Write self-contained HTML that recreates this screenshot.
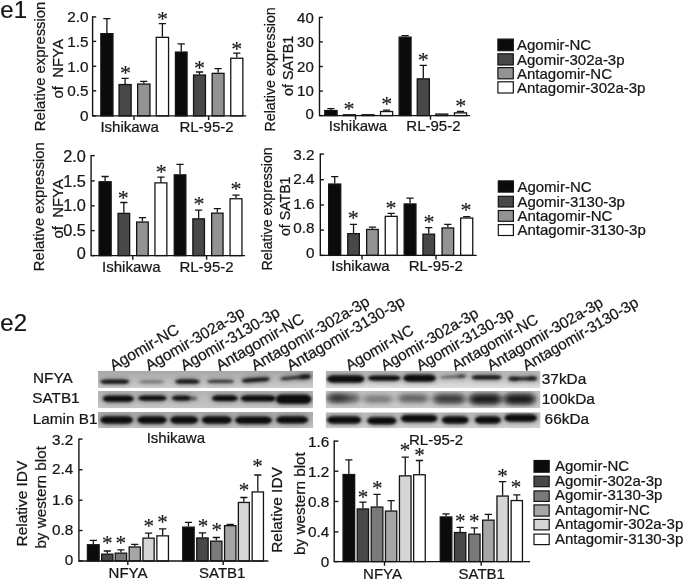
<!DOCTYPE html>
<html><head><meta charset="utf-8"><title>Figure e</title>
<style>html,body{margin:0;padding:0;background:#fff}svg{display:block}text{font-family:'Liberation Sans', sans-serif;fill:#161616;stroke:#161616;stroke-width:0.24px}</style></head><body>
<svg width="685" height="581" viewBox="0 0 685 581">
<rect width="685" height="581" fill="#fff"/>
<defs>
<filter id="bc" x="-30%" y="-150%" width="160%" height="400%"><feGaussianBlur stdDeviation="1.3 0.9"/></filter>
<filter id="bd" x="-30%" y="-150%" width="160%" height="400%"><feGaussianBlur stdDeviation="3.2 2.4"/></filter>
<filter id="bh" x="-30%" y="-150%" width="160%" height="400%"><feGaussianBlur stdDeviation="2.6 2.2"/></filter>
<linearGradient id="bg" x1="0" y1="0" x2="0" y2="1"><stop offset="0" stop-color="#b4b4b4"/><stop offset="1" stop-color="#cfcfcf"/></linearGradient>
</defs>
<text x="0.3" y="18" font-size="24" text-anchor="start">e1</text>
<text x="0.3" y="330.8" font-size="24" text-anchor="start">e2</text>
<rect x="100.85" y="33.65" width="12.10" height="82.25" fill="#0b0b0b" stroke="#141414" stroke-width="1.3"/>
<path d="M106.90 33.00V18.60M103.30 18.60H110.50" stroke="#141414" stroke-width="1.3" fill="none"/>
<rect x="119.05" y="84.55" width="12.10" height="31.35" fill="#484848" stroke="#141414" stroke-width="1.3"/>
<path d="M125.10 83.90V78.40M121.50 78.40H128.70" stroke="#141414" stroke-width="1.3" fill="none"/>
<rect x="137.65" y="84.05" width="12.30" height="31.85" fill="#939393" stroke="#141414" stroke-width="1.3"/>
<path d="M143.80 83.40V81.40M140.20 81.40H147.40" stroke="#141414" stroke-width="1.3" fill="none"/>
<rect x="156.25" y="37.35" width="12.30" height="78.55" fill="#ffffff" stroke="#141414" stroke-width="1.3"/>
<path d="M162.40 36.70V23.60M158.80 23.60H166.00" stroke="#141414" stroke-width="1.3" fill="none"/>
<rect x="175.45" y="52.05" width="11.60" height="63.85" fill="#0b0b0b" stroke="#141414" stroke-width="1.3"/>
<path d="M181.25 51.40V43.90M177.65 43.90H184.85" stroke="#141414" stroke-width="1.3" fill="none"/>
<rect x="193.55" y="75.05" width="11.90" height="40.85" fill="#484848" stroke="#141414" stroke-width="1.3"/>
<path d="M199.50 74.40V72.00M195.90 72.00H203.10" stroke="#141414" stroke-width="1.3" fill="none"/>
<rect x="212.15" y="73.35" width="11.90" height="42.55" fill="#939393" stroke="#141414" stroke-width="1.3"/>
<path d="M218.10 72.70V68.70M214.50 68.70H221.70" stroke="#141414" stroke-width="1.3" fill="none"/>
<rect x="230.75" y="58.25" width="12.10" height="57.65" fill="#ffffff" stroke="#141414" stroke-width="1.3"/>
<path d="M236.80 57.60V53.10M233.20 53.10H240.40" stroke="#141414" stroke-width="1.3" fill="none"/>
<path d="M92.6 16.2V115.9H246.3" stroke="#141414" stroke-width="1.4" fill="none"/>
<path d="M92.6 16.9h3.6" stroke="#141414" stroke-width="1.4"/>
<path d="M92.6 41.4h3.6" stroke="#141414" stroke-width="1.4"/>
<path d="M92.6 66.3h3.6" stroke="#141414" stroke-width="1.4"/>
<path d="M92.6 90.8h3.6" stroke="#141414" stroke-width="1.4"/>
<path d="M92.6 115.9h3.6" stroke="#141414" stroke-width="1.4"/>
<text x="88.5" y="22.3" font-size="15.3" text-anchor="end">2.0</text>
<text x="88.5" y="46.8" font-size="15.3" text-anchor="end">1.5</text>
<text x="88.5" y="71.7" font-size="15.3" text-anchor="end">1.0</text>
<text x="88.5" y="96.2" font-size="15.3" text-anchor="end">0.5</text>
<text x="88.5" y="121.3" font-size="15.3" text-anchor="end">0</text>
<path d="M134 115.9v4.1" stroke="#141414" stroke-width="1.4"/>
<path d="M208.6 115.9v4.1" stroke="#141414" stroke-width="1.4"/>
<text x="125.6" y="79.5" font-size="22" text-anchor="middle" style="font-family:'Liberation Serif', serif;stroke-width:0.12px">*</text>
<text x="162.4" y="25.9" font-size="22" text-anchor="middle" style="font-family:'Liberation Serif', serif;stroke-width:0.12px">*</text>
<text x="199.6" y="74.5" font-size="22" text-anchor="middle" style="font-family:'Liberation Serif', serif;stroke-width:0.12px">*</text>
<text x="236.8" y="55.7" font-size="22" text-anchor="middle" style="font-family:'Liberation Serif', serif;stroke-width:0.12px">*</text>
<text x="129.6" y="131.5" font-size="15" text-anchor="middle">Ishikawa</text>
<text x="206.5" y="131.5" font-size="15" text-anchor="middle">RL-95-2</text>
<text x="44.9" y="131.2" font-size="15" text-anchor="start" transform="rotate(-90 44.9 131.2)" textLength="129.5" lengthAdjust="spacingAndGlyphs">Relative expression</text>
<text x="63.2" y="98.5" font-size="15" text-anchor="start" transform="rotate(-90 63.2 98.5)" textLength="59.4" lengthAdjust="spacingAndGlyphs">of&#160;&#160;NFYA</text>
<rect x="324.75" y="110.55" width="12.30" height="5.05" fill="#0b0b0b" stroke="#141414" stroke-width="1.3"/>
<path d="M330.90 109.90V108.70M327.30 108.70H334.50" stroke="#141414" stroke-width="1.3" fill="none"/>
<rect x="343.35" y="114.75" width="12.10" height="0.85" fill="#484848" stroke="#141414" stroke-width="1.3"/>
<rect x="361.95" y="114.75" width="12.10" height="0.85" fill="#939393" stroke="#141414" stroke-width="1.3"/>
<rect x="380.55" y="111.55" width="12.10" height="4.05" fill="#ffffff" stroke="#141414" stroke-width="1.3"/>
<path d="M386.60 110.90V110.20M383.00 110.20H390.20" stroke="#141414" stroke-width="1.3" fill="none"/>
<rect x="399.15" y="37.15" width="11.90" height="78.45" fill="#0b0b0b" stroke="#141414" stroke-width="1.3"/>
<path d="M405.10 36.50V35.60M401.50 35.60H408.70" stroke="#141414" stroke-width="1.3" fill="none"/>
<rect x="417.25" y="78.85" width="12.10" height="36.75" fill="#484848" stroke="#141414" stroke-width="1.3"/>
<path d="M423.30 78.20V65.30M419.70 65.30H426.90" stroke="#141414" stroke-width="1.3" fill="none"/>
<rect x="435.85" y="114.05" width="11.90" height="1.55" fill="#939393" stroke="#141414" stroke-width="1.3"/>
<rect x="454.45" y="112.85" width="12.10" height="2.75" fill="#ffffff" stroke="#141414" stroke-width="1.3"/>
<path d="M460.50 112.20V111.50M456.90 111.50H464.10" stroke="#141414" stroke-width="1.3" fill="none"/>
<path d="M319.5 16.7V115.6H470" stroke="#141414" stroke-width="1.4" fill="none"/>
<path d="M319.5 17.4h3.3" stroke="#141414" stroke-width="1.4"/>
<path d="M319.5 41.9h3.3" stroke="#141414" stroke-width="1.4"/>
<path d="M319.5 66.5h3.3" stroke="#141414" stroke-width="1.4"/>
<path d="M319.5 91.1h3.3" stroke="#141414" stroke-width="1.4"/>
<path d="M319.5 115.6h3.3" stroke="#141414" stroke-width="1.4"/>
<text x="313.8" y="23.0" font-size="15" text-anchor="end">40</text>
<text x="313.8" y="47.2" font-size="15" text-anchor="end">30</text>
<text x="313.8" y="71.8" font-size="15" text-anchor="end">20</text>
<text x="313.8" y="96.4" font-size="15" text-anchor="end">10</text>
<text x="313.8" y="119.4" font-size="15" text-anchor="end">0</text>
<path d="M355.5 115.6v4.1" stroke="#141414" stroke-width="1.4"/>
<path d="M430.5 115.6v4.1" stroke="#141414" stroke-width="1.4"/>
<text x="349.1" y="116.0" font-size="22" text-anchor="middle" style="font-family:'Liberation Serif', serif;stroke-width:0.12px">*</text>
<text x="386.8" y="111.0" font-size="22" text-anchor="middle" style="font-family:'Liberation Serif', serif;stroke-width:0.12px">*</text>
<text x="423.3" y="67.0" font-size="22" text-anchor="middle" style="font-family:'Liberation Serif', serif;stroke-width:0.12px">*</text>
<text x="460.8" y="112.7" font-size="22" text-anchor="middle" style="font-family:'Liberation Serif', serif;stroke-width:0.12px">*</text>
<text x="358" y="131.4" font-size="15" text-anchor="middle">Ishikawa</text>
<text x="433.4" y="131.4" font-size="15" text-anchor="middle">RL-95-2</text>
<text x="274.5" y="131.5" font-size="15.5" text-anchor="start" transform="rotate(-90 274.5 131.5)" textLength="124.3" lengthAdjust="spacingAndGlyphs">Relative expression</text>
<text x="293.2" y="96" font-size="15" text-anchor="start" transform="rotate(-90 293.2 96)" textLength="60.3" lengthAdjust="spacingAndGlyphs">of SATB1</text>
<rect x="99.05" y="181.75" width="12.10" height="73.85" fill="#0b0b0b" stroke="#141414" stroke-width="1.3"/>
<path d="M105.10 181.10V176.50M101.50 176.50H108.70" stroke="#141414" stroke-width="1.3" fill="none"/>
<rect x="118.05" y="213.35" width="11.60" height="42.25" fill="#484848" stroke="#141414" stroke-width="1.3"/>
<path d="M123.85 212.70V202.50M120.25 202.50H127.45" stroke="#141414" stroke-width="1.3" fill="none"/>
<rect x="136.65" y="222.05" width="11.60" height="33.55" fill="#939393" stroke="#141414" stroke-width="1.3"/>
<path d="M142.45 221.40V217.70M138.85 217.70H146.05" stroke="#141414" stroke-width="1.3" fill="none"/>
<rect x="154.95" y="182.85" width="11.90" height="72.75" fill="#ffffff" stroke="#141414" stroke-width="1.3"/>
<path d="M160.90 182.20V177.20M157.30 177.20H164.50" stroke="#141414" stroke-width="1.3" fill="none"/>
<rect x="174.25" y="174.85" width="11.60" height="80.75" fill="#0b0b0b" stroke="#141414" stroke-width="1.3"/>
<path d="M180.05 174.20V164.30M176.45 164.30H183.65" stroke="#141414" stroke-width="1.3" fill="none"/>
<rect x="192.85" y="218.85" width="11.60" height="36.75" fill="#484848" stroke="#141414" stroke-width="1.3"/>
<path d="M198.65 218.20V210.20M195.05 210.20H202.25" stroke="#141414" stroke-width="1.3" fill="none"/>
<rect x="211.65" y="213.15" width="11.40" height="42.45" fill="#939393" stroke="#141414" stroke-width="1.3"/>
<path d="M217.35 212.50V208.70M213.75 208.70H220.95" stroke="#141414" stroke-width="1.3" fill="none"/>
<rect x="230.05" y="198.75" width="11.90" height="56.85" fill="#ffffff" stroke="#141414" stroke-width="1.3"/>
<path d="M236.00 198.10V195.10M232.40 195.10H239.60" stroke="#141414" stroke-width="1.3" fill="none"/>
<path d="M91.1 154.9V255.6H245" stroke="#141414" stroke-width="1.4" fill="none"/>
<path d="M91.1 155.6h3.6" stroke="#141414" stroke-width="1.4"/>
<path d="M91.1 180.9h3.6" stroke="#141414" stroke-width="1.4"/>
<path d="M91.1 205.8h3.6" stroke="#141414" stroke-width="1.4"/>
<path d="M91.1 230.6h3.6" stroke="#141414" stroke-width="1.4"/>
<path d="M91.1 255.6h3.6" stroke="#141414" stroke-width="1.4"/>
<text x="85.9" y="161.8" font-size="16.3" text-anchor="end">2.0</text>
<text x="85.9" y="186.7" font-size="16.3" text-anchor="end">1.5</text>
<text x="85.9" y="211.2" font-size="16.3" text-anchor="end">1.0</text>
<text x="85.9" y="235.6" font-size="16.3" text-anchor="end">0.5</text>
<text x="85.9" y="259.1" font-size="16.3" text-anchor="end">0</text>
<path d="M132.8 255.6v4.1" stroke="#141414" stroke-width="1.4"/>
<path d="M206.6 255.6v4.1" stroke="#141414" stroke-width="1.4"/>
<text x="123.3" y="204.5" font-size="22" text-anchor="middle" style="font-family:'Liberation Serif', serif;stroke-width:0.12px">*</text>
<text x="161.2" y="178.9" font-size="22" text-anchor="middle" style="font-family:'Liberation Serif', serif;stroke-width:0.12px">*</text>
<text x="198.9" y="211.2" font-size="22" text-anchor="middle" style="font-family:'Liberation Serif', serif;stroke-width:0.12px">*</text>
<text x="236.1" y="196.3" font-size="22" text-anchor="middle" style="font-family:'Liberation Serif', serif;stroke-width:0.12px">*</text>
<text x="131.3" y="272.3" font-size="15" text-anchor="middle">Ishikawa</text>
<text x="206.5" y="272.3" font-size="15" text-anchor="middle">RL-95-2</text>
<text x="43.8" y="271.2" font-size="15" text-anchor="start" transform="rotate(-90 43.8 271.2)" textLength="129" lengthAdjust="spacingAndGlyphs">Relative expression</text>
<text x="63.2" y="238.5" font-size="15" text-anchor="start" transform="rotate(-90 63.2 238.5)" textLength="59.4" lengthAdjust="spacingAndGlyphs">of&#160;&#160;NFYA</text>
<rect x="328.65" y="184.05" width="12.10" height="71.35" fill="#0b0b0b" stroke="#141414" stroke-width="1.3"/>
<path d="M334.70 183.40V176.70M331.10 176.70H338.30" stroke="#141414" stroke-width="1.3" fill="none"/>
<rect x="347.75" y="233.65" width="11.60" height="21.75" fill="#484848" stroke="#141414" stroke-width="1.3"/>
<path d="M353.55 233.00V224.40M349.95 224.40H357.15" stroke="#141414" stroke-width="1.3" fill="none"/>
<rect x="366.65" y="229.45" width="11.60" height="25.95" fill="#939393" stroke="#141414" stroke-width="1.3"/>
<path d="M372.45 228.80V227.10M368.85 227.10H376.05" stroke="#141414" stroke-width="1.3" fill="none"/>
<rect x="385.25" y="216.35" width="11.90" height="39.05" fill="#ffffff" stroke="#141414" stroke-width="1.3"/>
<path d="M391.20 215.70V213.40M387.60 213.40H394.80" stroke="#141414" stroke-width="1.3" fill="none"/>
<rect x="404.15" y="203.95" width="11.80" height="51.45" fill="#0b0b0b" stroke="#141414" stroke-width="1.3"/>
<path d="M410.05 203.30V198.10M406.45 198.10H413.65" stroke="#141414" stroke-width="1.3" fill="none"/>
<rect x="422.95" y="234.15" width="11.60" height="21.25" fill="#484848" stroke="#141414" stroke-width="1.3"/>
<path d="M428.75 233.50V227.60M425.15 227.60H432.35" stroke="#141414" stroke-width="1.3" fill="none"/>
<rect x="442.05" y="227.95" width="11.60" height="27.45" fill="#939393" stroke="#141414" stroke-width="1.3"/>
<path d="M447.85 227.30V224.40M444.25 224.40H451.45" stroke="#141414" stroke-width="1.3" fill="none"/>
<rect x="460.65" y="218.05" width="12.10" height="37.35" fill="#ffffff" stroke="#141414" stroke-width="1.3"/>
<path d="M466.70 217.40V216.60M463.10 216.60H470.30" stroke="#141414" stroke-width="1.3" fill="none"/>
<path d="M320.3 153.4V255.4H476.7" stroke="#141414" stroke-width="1.4" fill="none"/>
<path d="M320.3 154.1h3.6" stroke="#141414" stroke-width="1.4"/>
<path d="M320.3 179.7h3.6" stroke="#141414" stroke-width="1.4"/>
<path d="M320.3 205h3.6" stroke="#141414" stroke-width="1.4"/>
<path d="M320.3 230.1h3.6" stroke="#141414" stroke-width="1.4"/>
<path d="M320.3 255.4h3.6" stroke="#141414" stroke-width="1.4"/>
<text x="314.5" y="160.0" font-size="15.3" text-anchor="end">3.2</text>
<text x="314.5" y="184.1" font-size="15.3" text-anchor="end">2.4</text>
<text x="314.5" y="208.6" font-size="15.3" text-anchor="end">1.6</text>
<text x="314.5" y="232.9" font-size="15.3" text-anchor="end">0.8</text>
<text x="314.5" y="257.7" font-size="15.3" text-anchor="end">0</text>
<path d="M362 255.4v4.1" stroke="#141414" stroke-width="1.4"/>
<path d="M436 255.4v4.1" stroke="#141414" stroke-width="1.4"/>
<text x="353.3" y="224.8" font-size="22" text-anchor="middle" style="font-family:'Liberation Serif', serif;stroke-width:0.12px">*</text>
<text x="391.1" y="215.4" font-size="22" text-anchor="middle" style="font-family:'Liberation Serif', serif;stroke-width:0.12px">*</text>
<text x="429.0" y="229.3" font-size="22" text-anchor="middle" style="font-family:'Liberation Serif', serif;stroke-width:0.12px">*</text>
<text x="466.0" y="217.4" font-size="22" text-anchor="middle" style="font-family:'Liberation Serif', serif;stroke-width:0.12px">*</text>
<text x="360.5" y="271" font-size="15" text-anchor="middle">Ishikawa</text>
<text x="435.8" y="271" font-size="15" text-anchor="middle">RL-95-2</text>
<text x="272.3" y="270.5" font-size="15.5" text-anchor="start" transform="rotate(-90 272.3 270.5)" textLength="123.2" lengthAdjust="spacingAndGlyphs">Relative expression</text>
<text x="290.4" y="236" font-size="15" text-anchor="start" transform="rotate(-90 290.4 236)" textLength="59.5" lengthAdjust="spacingAndGlyphs">of SATB1</text>
<rect x="87.45" y="544.75" width="11.70" height="16.25" fill="#0b0b0b" stroke="#141414" stroke-width="1.3"/>
<path d="M93.30 544.10V540.40M89.70 540.40H96.90" stroke="#141414" stroke-width="1.3" fill="none"/>
<rect x="101.65" y="554.15" width="11.30" height="6.85" fill="#484848" stroke="#141414" stroke-width="1.3"/>
<path d="M107.30 553.50V551.00M103.70 551.00H110.90" stroke="#141414" stroke-width="1.3" fill="none"/>
<rect x="115.25" y="553.15" width="11.40" height="7.85" fill="#7a7a7a" stroke="#141414" stroke-width="1.3"/>
<path d="M120.95 552.50V549.80M117.35 549.80H124.55" stroke="#141414" stroke-width="1.3" fill="none"/>
<rect x="129.15" y="546.95" width="11.20" height="14.05" fill="#a6a6a6" stroke="#141414" stroke-width="1.3"/>
<path d="M134.75 546.30V544.40M131.15 544.40H138.35" stroke="#141414" stroke-width="1.3" fill="none"/>
<rect x="142.95" y="538.15" width="11.20" height="22.85" fill="#d5d5d5" stroke="#141414" stroke-width="1.3"/>
<path d="M148.55 537.50V533.20M144.95 533.20H152.15" stroke="#141414" stroke-width="1.3" fill="none"/>
<rect x="156.85" y="535.85" width="11.60" height="25.15" fill="#ffffff" stroke="#141414" stroke-width="1.3"/>
<path d="M162.65 535.20V528.80M159.05 528.80H166.25" stroke="#141414" stroke-width="1.3" fill="none"/>
<rect x="182.75" y="527.15" width="11.40" height="33.85" fill="#0b0b0b" stroke="#141414" stroke-width="1.3"/>
<path d="M188.45 526.50V522.30M184.85 522.30H192.05" stroke="#141414" stroke-width="1.3" fill="none"/>
<rect x="196.75" y="537.95" width="11.40" height="23.05" fill="#484848" stroke="#141414" stroke-width="1.3"/>
<path d="M202.45 537.30V532.80M198.85 532.80H206.05" stroke="#141414" stroke-width="1.3" fill="none"/>
<rect x="210.65" y="541.15" width="11.30" height="19.85" fill="#7a7a7a" stroke="#141414" stroke-width="1.3"/>
<path d="M216.30 540.50V537.50M212.70 537.50H219.90" stroke="#141414" stroke-width="1.3" fill="none"/>
<rect x="224.55" y="525.65" width="11.40" height="35.35" fill="#a6a6a6" stroke="#141414" stroke-width="1.3"/>
<path d="M230.25 525.00V524.40M226.65 524.40H233.85" stroke="#141414" stroke-width="1.3" fill="none"/>
<rect x="238.35" y="502.45" width="11.00" height="58.55" fill="#d5d5d5" stroke="#141414" stroke-width="1.3"/>
<path d="M243.85 501.80V497.50M240.25 497.50H247.45" stroke="#141414" stroke-width="1.3" fill="none"/>
<rect x="252.15" y="491.95" width="11.30" height="69.05" fill="#ffffff" stroke="#141414" stroke-width="1.3"/>
<path d="M257.80 491.30V475.00M254.20 475.00H261.40" stroke="#141414" stroke-width="1.3" fill="none"/>
<path d="M78.9 438.40000000000003V561H268.4" stroke="#141414" stroke-width="1.4" fill="none"/>
<path d="M78.9 439.1h3.6" stroke="#141414" stroke-width="1.4"/>
<path d="M78.9 469.7h3.6" stroke="#141414" stroke-width="1.4"/>
<path d="M78.9 500.2h3.6" stroke="#141414" stroke-width="1.4"/>
<path d="M78.9 530.5h3.6" stroke="#141414" stroke-width="1.4"/>
<path d="M78.9 561h3.6" stroke="#141414" stroke-width="1.4"/>
<text x="73.3" y="445.0" font-size="15.3" text-anchor="end">3.2</text>
<text x="73.3" y="474.1" font-size="15.3" text-anchor="end">2.4</text>
<text x="73.3" y="504.5" font-size="15.3" text-anchor="end">1.6</text>
<text x="73.3" y="534.7" font-size="15.3" text-anchor="end">0.8</text>
<text x="73.3" y="564.9" font-size="15.3" text-anchor="end">0</text>
<path d="M127.8 561v4.1" stroke="#141414" stroke-width="1.4"/>
<path d="M223.2 561v4.1" stroke="#141414" stroke-width="1.4"/>
<text x="107.2" y="550.4" font-size="21" text-anchor="middle" style="font-family:'Liberation Serif', serif;stroke-width:0.12px">*</text>
<text x="120.8" y="550.4" font-size="21" text-anchor="middle" style="font-family:'Liberation Serif', serif;stroke-width:0.12px">*</text>
<text x="148.7" y="533.3" font-size="21" text-anchor="middle" style="font-family:'Liberation Serif', serif;stroke-width:0.12px">*</text>
<text x="162.6" y="528.5" font-size="21" text-anchor="middle" style="font-family:'Liberation Serif', serif;stroke-width:0.12px">*</text>
<text x="203.1" y="533.0" font-size="21" text-anchor="middle" style="font-family:'Liberation Serif', serif;stroke-width:0.12px">*</text>
<text x="216.7" y="537.2" font-size="21" text-anchor="middle" style="font-family:'Liberation Serif', serif;stroke-width:0.12px">*</text>
<text x="243.9" y="497.3" font-size="21" text-anchor="middle" style="font-family:'Liberation Serif', serif;stroke-width:0.12px">*</text>
<text x="257.6" y="473.4" font-size="21" text-anchor="middle" style="font-family:'Liberation Serif', serif;stroke-width:0.12px">*</text>
<text x="128" y="578.3" font-size="15" text-anchor="middle">NFYA</text>
<text x="222.2" y="578.3" font-size="15" text-anchor="middle">SATB1</text>
<text x="27" y="546.5" font-size="15.5" text-anchor="start" transform="rotate(-90 27 546.5)" textLength="85.8" lengthAdjust="spacingAndGlyphs">Relative IDV</text>
<text x="46.4" y="548.6" font-size="15.5" text-anchor="start" transform="rotate(-90 46.4 548.6)" textLength="102.5" lengthAdjust="spacingAndGlyphs">by western blot</text>
<rect x="343.05" y="474.55" width="11.60" height="87.05" fill="#0b0b0b" stroke="#141414" stroke-width="1.3"/>
<path d="M348.85 473.90V459.90M345.25 459.90H352.45" stroke="#141414" stroke-width="1.3" fill="none"/>
<rect x="357.25" y="508.95" width="11.30" height="52.65" fill="#484848" stroke="#141414" stroke-width="1.3"/>
<path d="M362.90 508.30V502.10M359.30 502.10H366.50" stroke="#141414" stroke-width="1.3" fill="none"/>
<rect x="371.25" y="507.05" width="11.60" height="54.55" fill="#7a7a7a" stroke="#141414" stroke-width="1.3"/>
<path d="M377.05 506.40V494.30M373.45 494.30H380.65" stroke="#141414" stroke-width="1.3" fill="none"/>
<rect x="385.45" y="511.05" width="11.30" height="50.55" fill="#a6a6a6" stroke="#141414" stroke-width="1.3"/>
<path d="M391.10 510.40V500.70M387.50 500.70H394.70" stroke="#141414" stroke-width="1.3" fill="none"/>
<rect x="399.45" y="475.85" width="11.60" height="85.75" fill="#d5d5d5" stroke="#141414" stroke-width="1.3"/>
<path d="M405.25 475.20V457.20M401.65 457.20H408.85" stroke="#141414" stroke-width="1.3" fill="none"/>
<rect x="413.65" y="474.75" width="11.60" height="86.85" fill="#ffffff" stroke="#141414" stroke-width="1.3"/>
<path d="M419.45 474.10V460.50M415.85 460.50H423.05" stroke="#141414" stroke-width="1.3" fill="none"/>
<rect x="440.25" y="516.95" width="11.60" height="44.65" fill="#0b0b0b" stroke="#141414" stroke-width="1.3"/>
<path d="M446.05 516.30V513.90M442.45 513.90H449.65" stroke="#141414" stroke-width="1.3" fill="none"/>
<rect x="454.45" y="532.55" width="11.40" height="29.05" fill="#484848" stroke="#141414" stroke-width="1.3"/>
<path d="M460.15 531.90V527.30M456.55 527.30H463.75" stroke="#141414" stroke-width="1.3" fill="none"/>
<rect x="468.75" y="534.15" width="11.30" height="27.45" fill="#7a7a7a" stroke="#141414" stroke-width="1.3"/>
<path d="M474.40 533.50V527.90M470.80 527.90H478.00" stroke="#141414" stroke-width="1.3" fill="none"/>
<rect x="482.65" y="520.15" width="11.40" height="41.45" fill="#a6a6a6" stroke="#141414" stroke-width="1.3"/>
<path d="M488.35 519.50V514.40M484.75 514.40H491.95" stroke="#141414" stroke-width="1.3" fill="none"/>
<rect x="496.95" y="496.05" width="11.30" height="65.55" fill="#d5d5d5" stroke="#141414" stroke-width="1.3"/>
<path d="M502.60 495.40V481.70M499.00 481.70H506.20" stroke="#141414" stroke-width="1.3" fill="none"/>
<rect x="511.15" y="500.55" width="11.30" height="61.05" fill="#ffffff" stroke="#141414" stroke-width="1.3"/>
<path d="M516.80 499.90V494.80M513.20 494.80H520.40" stroke="#141414" stroke-width="1.3" fill="none"/>
<path d="M334.2 440.40000000000003V561.6H530.1" stroke="#141414" stroke-width="1.4" fill="none"/>
<path d="M334.2 441.1h4.2" stroke="#141414" stroke-width="1.4"/>
<path d="M334.2 471.2h4.2" stroke="#141414" stroke-width="1.4"/>
<path d="M334.2 501.5h4.2" stroke="#141414" stroke-width="1.4"/>
<path d="M334.2 531.9h4.2" stroke="#141414" stroke-width="1.4"/>
<path d="M334.2 561.6h4.2" stroke="#141414" stroke-width="1.4"/>
<text x="329.2" y="446.5" font-size="15.3" text-anchor="end">1.6</text>
<text x="329.2" y="476.6" font-size="15.3" text-anchor="end">1.2</text>
<text x="329.2" y="506.9" font-size="15.3" text-anchor="end">0.8</text>
<text x="329.2" y="537.3" font-size="15.3" text-anchor="end">0.4</text>
<text x="329.2" y="566.5" font-size="15.3" text-anchor="end">0</text>
<path d="M384.5 561.6v4.1" stroke="#141414" stroke-width="1.4"/>
<path d="M481.2 561.6v4.1" stroke="#141414" stroke-width="1.4"/>
<text x="363.0" y="503.5" font-size="21" text-anchor="middle" style="font-family:'Liberation Serif', serif;stroke-width:0.12px">*</text>
<text x="377.3" y="495.4" font-size="21" text-anchor="middle" style="font-family:'Liberation Serif', serif;stroke-width:0.12px">*</text>
<text x="405.0" y="457.3" font-size="21" text-anchor="middle" style="font-family:'Liberation Serif', serif;stroke-width:0.12px">*</text>
<text x="419.5" y="461.9" font-size="21" text-anchor="middle" style="font-family:'Liberation Serif', serif;stroke-width:0.12px">*</text>
<text x="460.3" y="528.2" font-size="21" text-anchor="middle" style="font-family:'Liberation Serif', serif;stroke-width:0.12px">*</text>
<text x="474.3" y="528.2" font-size="21" text-anchor="middle" style="font-family:'Liberation Serif', serif;stroke-width:0.12px">*</text>
<text x="502.4" y="483.3" font-size="21" text-anchor="middle" style="font-family:'Liberation Serif', serif;stroke-width:0.12px">*</text>
<text x="515.9" y="493.5" font-size="21" text-anchor="middle" style="font-family:'Liberation Serif', serif;stroke-width:0.12px">*</text>
<text x="382.5" y="578.6" font-size="15" text-anchor="middle">NFYA</text>
<text x="481.7" y="578.6" font-size="15" text-anchor="middle">SATB1</text>
<text x="282" y="552.8" font-size="15.5" text-anchor="start" transform="rotate(-90 282 552.8)" textLength="85.6" lengthAdjust="spacingAndGlyphs">Relative IDV</text>
<text x="305.3" y="555" font-size="15.5" text-anchor="start" transform="rotate(-90 305.3 555)" textLength="102.8" lengthAdjust="spacingAndGlyphs">by western blot</text>
<rect x="497.9" y="39.1" width="15.4" height="11.6" fill="#0b0b0b" stroke="#141414" stroke-width="1.2"/>
<rect x="497.9" y="53.8" width="15.4" height="11.2" fill="#484848" stroke="#141414" stroke-width="1.2"/>
<rect x="497.9" y="67.6" width="15.4" height="11.2" fill="#939393" stroke="#141414" stroke-width="1.2"/>
<rect x="497.9" y="81.8" width="15.4" height="11.2" fill="#ffffff" stroke="#141414" stroke-width="1.2"/>
<text x="517" y="50.4" font-size="15" text-anchor="start">Agomir-NC</text>
<text x="517" y="64.7" font-size="15" text-anchor="start">Agomir-302a-3p</text>
<text x="517" y="79" font-size="15" text-anchor="start">Antagomir-NC</text>
<text x="517" y="93.3" font-size="15" text-anchor="start">Antagomir-302a-3p</text>
<rect x="498.3" y="180.9" width="15.1" height="11.2" fill="#0b0b0b" stroke="#141414" stroke-width="1.2"/>
<rect x="498.3" y="196.3" width="15.1" height="10.7" fill="#484848" stroke="#141414" stroke-width="1.2"/>
<rect x="498.3" y="210.5" width="15.1" height="10.8" fill="#939393" stroke="#141414" stroke-width="1.2"/>
<rect x="498.3" y="224.6" width="15.1" height="10.9" fill="#ffffff" stroke="#141414" stroke-width="1.2"/>
<text x="517.4" y="192.3" font-size="15" text-anchor="start">Agomir-NC</text>
<text x="517.4" y="206.6" font-size="15" text-anchor="start">Agomir-3130-3p</text>
<text x="517.4" y="220.9" font-size="15" text-anchor="start">Antagomir-NC</text>
<text x="517.4" y="235.2" font-size="15" text-anchor="start">Antagomir-3130-3p</text>
<rect x="534" y="460.5" width="15.2" height="11.7" fill="#0b0b0b" stroke="#141414" stroke-width="1.2"/>
<rect x="534" y="476.2" width="15.2" height="10.5" fill="#484848" stroke="#141414" stroke-width="1.2"/>
<rect x="534" y="490.9" width="15.2" height="10.5" fill="#7a7a7a" stroke="#141414" stroke-width="1.2"/>
<rect x="534" y="504.9" width="15.2" height="11.2" fill="#a6a6a6" stroke="#141414" stroke-width="1.2"/>
<rect x="534" y="519.4" width="15.2" height="10.5" fill="#d5d5d5" stroke="#141414" stroke-width="1.2"/>
<rect x="534" y="534.1" width="15.2" height="10.5" fill="#ffffff" stroke="#141414" stroke-width="1.2"/>
<text x="554.9" y="471.2" font-size="15" text-anchor="start">Agomir-NC</text>
<text x="554.9" y="485.7" font-size="15" text-anchor="start">Agomir-302a-3p</text>
<text x="554.9" y="500.2" font-size="15" text-anchor="start">Agomir-3130-3p</text>
<text x="554.9" y="514.7" font-size="15" text-anchor="start">Antagomir-NC</text>
<text x="554.9" y="529.2" font-size="15" text-anchor="start">Antagomir-302a-3p</text>
<text x="554.9" y="543.7" font-size="15" text-anchor="start">Antagomir-3130-3p</text>
<text x="113.5" y="371.3" font-size="15.6" text-anchor="start" transform="rotate(-30 113.5 371.3)">Agomir-NC</text>
<text x="349.2" y="371" font-size="15.3" text-anchor="start" transform="rotate(-30 349.2 371)">Agomir-NC</text>
<text x="148.9" y="371.3" font-size="15.6" text-anchor="start" transform="rotate(-30 148.9 371.3)">Agomir-302a-3p</text>
<text x="384.6" y="371" font-size="15.3" text-anchor="start" transform="rotate(-30 384.6 371)">Agomir-302a-3p</text>
<text x="184.3" y="371.3" font-size="15.6" text-anchor="start" transform="rotate(-30 184.3 371.3)">Agomir-3130-3p</text>
<text x="420.0" y="371" font-size="15.3" text-anchor="start" transform="rotate(-30 420.0 371)">Agomir-3130-3p</text>
<text x="219.7" y="371.3" font-size="15.6" text-anchor="start" transform="rotate(-30 219.7 371.3)">Antagomir-NC</text>
<text x="455.4" y="371" font-size="15.3" text-anchor="start" transform="rotate(-30 455.4 371)">Antagomir-NC</text>
<text x="255.1" y="371.3" font-size="15.6" text-anchor="start" transform="rotate(-30 255.1 371.3)">Antagomir-302a-3p</text>
<text x="490.8" y="371" font-size="15.3" text-anchor="start" transform="rotate(-30 490.8 371)">Antagomir-302a-3p</text>
<text x="290.5" y="371.3" font-size="15.6" text-anchor="start" transform="rotate(-30 290.5 371.3)">Antagomir-3130-3p</text>
<text x="526.2" y="371" font-size="15.3" text-anchor="start" transform="rotate(-30 526.2 371)">Antagomir-3130-3p</text>
<text x="33" y="383.2" font-size="15.3" text-anchor="start">NFYA</text>
<text x="32.3" y="403.4" font-size="15.3" text-anchor="start">SATB1</text>
<text x="32.8" y="424.2" font-size="15.3" text-anchor="start">Lamin B1</text>
<text x="541.8" y="383.6" font-size="15.4" text-anchor="start">37kDa</text>
<text x="541.8" y="403.9" font-size="15.4" text-anchor="start">100kDa</text>
<text x="544.6" y="424" font-size="15.4" text-anchor="start">66kDa</text>
<text x="146.7" y="443.3" font-size="15" text-anchor="start">Ishikawa</text>
<text x="409" y="445" font-size="15" text-anchor="start">RL-95-2</text>
<linearGradient id="g1" x1="0" y1="0" x2="0" y2="1"><stop offset="0" stop-color="#a6a6a6"/><stop offset="1" stop-color="#cdcdcd"/></linearGradient>
<clipPath id="c1"><rect x="98" y="370.8" width="215.2" height="17.2"/></clipPath>
<g clip-path="url(#c1)"><rect x="98" y="370.8" width="215.2" height="17.2" fill="url(#g1)"/>
<rect x="99.6" y="378.2" width="30.4" height="6.8" rx="7.0" ry="3.4" fill="#101010" opacity="0.33" filter="url(#bh)"/>
<rect x="100.6" y="379.7" width="28.4" height="3.8" rx="6.0" ry="1.9" fill="#0a0a0a" opacity="0.95" filter="url(#bc)"/>
<rect x="138.0" y="379.1" width="27.0" height="5.6" rx="7.0" ry="2.8" fill="#101010" opacity="0.12" filter="url(#bh)"/>
<rect x="139.0" y="380.6" width="25.0" height="2.6" rx="6.0" ry="1.3" fill="#0a0a0a" opacity="0.33" filter="url(#bc)"/>
<rect x="174.3" y="378.1" width="26.3" height="7.0" rx="7.0" ry="3.5" fill="#101010" opacity="0.32" filter="url(#bh)"/>
<rect x="175.3" y="379.6" width="24.3" height="4.0" rx="6.0" ry="2.0" fill="#0a0a0a" opacity="0.9" filter="url(#bc)"/>
<rect x="206.4" y="378.5" width="28.5" height="5.8" rx="7.0" ry="2.9" fill="#101010" opacity="0.25" filter="url(#bh)"/>
<rect x="207.4" y="380.0" width="26.5" height="2.8" rx="6.0" ry="1.4" fill="#0a0a0a" opacity="0.72" filter="url(#bc)"/>
<rect x="241.0" y="376.5" width="29.5" height="6.7" rx="7.0" ry="3.3" fill="#101010" opacity="0.32" filter="url(#bh)" transform="rotate(-4 255.8 379.8)"/>
<rect x="242.0" y="378.0" width="27.5" height="3.7" rx="6.0" ry="1.8" fill="#0a0a0a" opacity="0.92" filter="url(#bc)" transform="rotate(-4 255.8 379.8)"/>
<rect x="279.5" y="374.7" width="32.0" height="5.9" rx="7.0" ry="3.0" fill="#101010" opacity="0.28" filter="url(#bh)" transform="rotate(-5 295.5 377.7)"/>
<rect x="280.5" y="376.2" width="30.0" height="2.9" rx="6.0" ry="1.5" fill="#0a0a0a" opacity="0.8" filter="url(#bc)" transform="rotate(-5 295.5 377.7)"/>
<rect x="299.0" y="373.3" width="12.2" height="6.8" rx="3.4" ry="3.4" fill="#101010" opacity="0.24" filter="url(#bh)" transform="rotate(-5 305.1 376.7)"/>
<rect x="300.0" y="374.8" width="10.2" height="3.8" rx="3.4" ry="1.9" fill="#0a0a0a" opacity="0.7" filter="url(#bc)" transform="rotate(-5 305.1 376.7)"/>
</g>
<linearGradient id="g2" x1="0" y1="0" x2="0" y2="1"><stop offset="0" stop-color="#b2b2b2"/><stop offset="1" stop-color="#c6c6c6"/></linearGradient>
<clipPath id="c2"><rect x="98" y="390.9" width="215.2" height="17.4"/></clipPath>
<g clip-path="url(#c2)"><rect x="98" y="390.9" width="215.2" height="17.4" fill="url(#g2)"/>
<rect x="102.0" y="394.2" width="32.5" height="9.0" rx="7.0" ry="4.5" fill="#101010" opacity="0.35" filter="url(#bh)"/>
<rect x="103.0" y="395.7" width="30.5" height="6.0" rx="6.0" ry="3.0" fill="#0a0a0a" opacity="1" filter="url(#bc)"/>
<rect x="137.4" y="394.2" width="30.1" height="7.8" rx="7.0" ry="3.9" fill="#101010" opacity="0.35" filter="url(#bh)"/>
<rect x="138.4" y="395.7" width="28.1" height="4.8" rx="6.0" ry="2.4" fill="#0a0a0a" opacity="1" filter="url(#bc)"/>
<rect x="171.0" y="394.3" width="20.0" height="7.6" rx="6.0" ry="3.8" fill="#101010" opacity="0.33" filter="url(#bh)"/>
<rect x="172.0" y="395.8" width="18.0" height="4.6" rx="6.0" ry="2.3" fill="#0a0a0a" opacity="0.95" filter="url(#bc)"/>
<rect x="185.0" y="395.3" width="13.0" height="6.1" rx="3.7" ry="3.0" fill="#101010" opacity="0.16" filter="url(#bh)"/>
<rect x="186.0" y="396.8" width="11.0" height="3.1" rx="3.7" ry="1.5" fill="#0a0a0a" opacity="0.45" filter="url(#bc)"/>
<rect x="211.2" y="393.9" width="27.3" height="8.6" rx="7.0" ry="4.3" fill="#101010" opacity="0.35" filter="url(#bh)"/>
<rect x="212.2" y="395.4" width="25.3" height="5.6" rx="6.0" ry="2.8" fill="#0a0a0a" opacity="1" filter="url(#bc)"/>
<rect x="240.0" y="394.0" width="36.5" height="8.8" rx="7.0" ry="4.4" fill="#101010" opacity="0.35" filter="url(#bh)"/>
<rect x="241.0" y="395.5" width="34.5" height="5.8" rx="6.0" ry="2.9" fill="#0a0a0a" opacity="1" filter="url(#bc)"/>
<rect x="275.0" y="393.2" width="37.2" height="12.0" rx="7.0" ry="6.0" fill="#101010" opacity="0.35" filter="url(#bh)"/>
<rect x="276.0" y="394.7" width="35.2" height="9.0" rx="6.0" ry="4.5" fill="#0a0a0a" opacity="1" filter="url(#bc)"/>
</g>
<linearGradient id="g3" x1="0" y1="0" x2="0" y2="1"><stop offset="0" stop-color="#a8a8a8"/><stop offset="1" stop-color="#c2c2c2"/></linearGradient>
<clipPath id="c3"><rect x="98" y="412" width="215.2" height="16.3"/></clipPath>
<g clip-path="url(#c3)"><rect x="98" y="412" width="215.2" height="16.3" fill="url(#g3)"/>
<rect x="99.6" y="415.0" width="34.1" height="9.9" rx="7.0" ry="4.9" fill="#101010" opacity="0.35" filter="url(#bh)"/>
<rect x="100.6" y="416.5" width="32.1" height="6.9" rx="6.0" ry="3.4" fill="#0a0a0a" opacity="1" filter="url(#bc)"/>
<rect x="136.6" y="415.1" width="30.9" height="9.9" rx="7.0" ry="4.9" fill="#101010" opacity="0.35" filter="url(#bh)"/>
<rect x="137.6" y="416.6" width="28.9" height="6.9" rx="6.0" ry="3.4" fill="#0a0a0a" opacity="1" filter="url(#bc)"/>
<rect x="169.5" y="415.1" width="29.3" height="9.9" rx="7.0" ry="4.9" fill="#101010" opacity="0.35" filter="url(#bh)"/>
<rect x="170.5" y="416.6" width="27.3" height="6.9" rx="6.0" ry="3.4" fill="#0a0a0a" opacity="1" filter="url(#bc)"/>
<rect x="201.0" y="415.0" width="31.5" height="9.9" rx="7.0" ry="4.9" fill="#101010" opacity="0.35" filter="url(#bh)"/>
<rect x="202.0" y="416.5" width="29.5" height="6.9" rx="6.0" ry="3.4" fill="#0a0a0a" opacity="1" filter="url(#bc)"/>
<rect x="234.5" y="415.3" width="38.1" height="9.9" rx="7.0" ry="4.9" fill="#101010" opacity="0.35" filter="url(#bh)"/>
<rect x="235.5" y="416.8" width="36.1" height="6.9" rx="6.0" ry="3.4" fill="#0a0a0a" opacity="1" filter="url(#bc)"/>
<rect x="275.5" y="414.9" width="33.3" height="9.9" rx="7.0" ry="4.9" fill="#101010" opacity="0.35" filter="url(#bh)"/>
<rect x="276.5" y="416.4" width="31.3" height="6.9" rx="6.0" ry="3.4" fill="#0a0a0a" opacity="1" filter="url(#bc)"/>
</g>
<linearGradient id="g4" x1="0" y1="0" x2="0" y2="1"><stop offset="0" stop-color="#b4b4b4"/><stop offset="1" stop-color="#dedede"/></linearGradient>
<clipPath id="c4"><rect x="325.6" y="370.8" width="214.9" height="17.2"/></clipPath>
<g clip-path="url(#c4)"><rect x="325.6" y="370.8" width="214.9" height="17.2" fill="url(#g4)"/>
<rect x="326.2" y="374.0" width="39.0" height="9.9" rx="7.0" ry="4.9" fill="#101010" opacity="0.35" filter="url(#bh)"/>
<rect x="327.2" y="375.5" width="37.0" height="6.9" rx="6.0" ry="3.4" fill="#0a0a0a" opacity="1" filter="url(#bc)"/>
<rect x="367.2" y="374.2" width="34.1" height="7.8" rx="7.0" ry="3.9" fill="#101010" opacity="0.35" filter="url(#bh)"/>
<rect x="368.2" y="375.7" width="32.1" height="4.8" rx="6.0" ry="2.4" fill="#0a0a0a" opacity="1" filter="url(#bc)"/>
<rect x="402.5" y="373.2" width="34.1" height="9.9" rx="7.0" ry="4.9" fill="#101010" opacity="0.35" filter="url(#bh)"/>
<rect x="403.5" y="374.7" width="32.1" height="6.9" rx="6.0" ry="3.4" fill="#0a0a0a" opacity="1" filter="url(#bc)"/>
<rect x="439.4" y="374.3" width="27.1" height="5.1" rx="7.0" ry="2.5" fill="#101010" opacity="0.17" filter="url(#bh)" transform="rotate(-3 452.9 376.8)"/>
<rect x="440.4" y="375.8" width="25.1" height="2.1" rx="6.0" ry="1.0" fill="#0a0a0a" opacity="0.5" filter="url(#bc)" transform="rotate(-3 452.9 376.8)"/>
<rect x="457.0" y="373.6" width="9.5" height="5.2" rx="2.5" ry="2.6" fill="#101010" opacity="0.17" filter="url(#bh)" transform="rotate(-3 461.8 376.2)"/>
<rect x="458.0" y="375.1" width="7.5" height="2.2" rx="2.5" ry="1.1" fill="#0a0a0a" opacity="0.5" filter="url(#bc)" transform="rotate(-3 461.8 376.2)"/>
<rect x="470.8" y="373.9" width="31.7" height="6.8" rx="7.0" ry="3.4" fill="#101010" opacity="0.33" filter="url(#bh)"/>
<rect x="471.8" y="375.4" width="29.7" height="3.8" rx="6.0" ry="1.9" fill="#0a0a0a" opacity="0.95" filter="url(#bc)"/>
<rect x="507.7" y="375.5" width="30.1" height="6.3" rx="7.0" ry="3.1" fill="#101010" opacity="0.28" filter="url(#bh)"/>
<rect x="508.7" y="377.0" width="28.1" height="3.3" rx="6.0" ry="1.6" fill="#0a0a0a" opacity="0.8" filter="url(#bc)"/>
<rect x="507.7" y="375.8" width="11.3" height="6.4" rx="3.1" ry="3.2" fill="#101010" opacity="0.17" filter="url(#bh)"/>
<rect x="508.7" y="377.3" width="9.3" height="3.4" rx="3.1" ry="1.7" fill="#0a0a0a" opacity="0.5" filter="url(#bc)"/>
<rect x="527.0" y="375.0" width="10.8" height="6.4" rx="2.9" ry="3.2" fill="#101010" opacity="0.17" filter="url(#bh)"/>
<rect x="528.0" y="376.5" width="8.8" height="3.4" rx="2.9" ry="1.7" fill="#0a0a0a" opacity="0.5" filter="url(#bc)"/>
</g>
<linearGradient id="g5" x1="0" y1="0" x2="0" y2="1"><stop offset="0" stop-color="#bdbdbd"/><stop offset="1" stop-color="#c9c9c9"/></linearGradient>
<clipPath id="c5"><rect x="325.6" y="390.9" width="214.9" height="17.4"/></clipPath>
<g clip-path="url(#c5)"><rect x="325.6" y="390.9" width="214.9" height="17.4" fill="url(#g5)"/>
<rect x="327.0" y="393.5" width="32.5" height="9.4" rx="7.0" ry="4.7" fill="#101010" opacity="0.25" filter="url(#bh)"/>
<rect x="328.0" y="395.0" width="30.5" height="6.5" rx="6.0" ry="3.2" fill="#0a0a0a" opacity="0.5" filter="url(#bd)"/>
<rect x="328.0" y="394.0" width="19.0" height="8.6" rx="5.7" ry="4.3" fill="#101010" opacity="0.20" filter="url(#bh)"/>
<rect x="329.0" y="395.5" width="17.0" height="5.6" rx="5.7" ry="2.8" fill="#0a0a0a" opacity="0.4" filter="url(#bd)"/>
<rect x="363.0" y="395.2" width="30.0" height="7.7" rx="7.0" ry="3.9" fill="#101010" opacity="0.18" filter="url(#bh)"/>
<rect x="364.0" y="396.7" width="28.0" height="4.7" rx="6.0" ry="2.4" fill="#0a0a0a" opacity="0.36" filter="url(#bd)"/>
<rect x="398.0" y="394.2" width="30.6" height="8.2" rx="7.0" ry="4.1" fill="#101010" opacity="0.25" filter="url(#bh)"/>
<rect x="399.0" y="395.7" width="28.6" height="5.2" rx="6.0" ry="2.6" fill="#0a0a0a" opacity="0.5" filter="url(#bd)"/>
<rect x="433.0" y="393.8" width="32.5" height="10.3" rx="7.0" ry="5.2" fill="#101010" opacity="0.34" filter="url(#bh)"/>
<rect x="434.0" y="395.3" width="30.5" height="7.3" rx="6.0" ry="3.7" fill="#0a0a0a" opacity="0.68" filter="url(#bd)"/>
<rect x="469.0" y="393.6" width="32.7" height="11.2" rx="7.0" ry="5.6" fill="#101010" opacity="0.45" filter="url(#bh)"/>
<rect x="470.0" y="395.1" width="30.7" height="8.2" rx="6.0" ry="4.1" fill="#0a0a0a" opacity="0.9" filter="url(#bd)"/>
<rect x="503.7" y="393.6" width="31.7" height="11.2" rx="7.0" ry="5.6" fill="#101010" opacity="0.46" filter="url(#bh)"/>
<rect x="504.7" y="395.1" width="29.7" height="8.2" rx="6.0" ry="4.1" fill="#0a0a0a" opacity="0.92" filter="url(#bd)"/>
</g>
<linearGradient id="g6" x1="0" y1="0" x2="0" y2="1"><stop offset="0" stop-color="#b6b6b6"/><stop offset="1" stop-color="#d2d2d2"/></linearGradient>
<clipPath id="c6"><rect x="325.6" y="412.3" width="214.9" height="16.0"/></clipPath>
<g clip-path="url(#c6)"><rect x="325.6" y="412.3" width="214.9" height="16.0" fill="url(#g6)"/>
<rect x="326.2" y="415.0" width="35.8" height="9.9" rx="7.0" ry="4.9" fill="#101010" opacity="0.35" filter="url(#bh)"/>
<rect x="327.2" y="416.5" width="33.8" height="6.9" rx="6.0" ry="3.4" fill="#0a0a0a" opacity="1" filter="url(#bc)"/>
<rect x="366.4" y="415.8" width="30.9" height="9.9" rx="7.0" ry="4.9" fill="#101010" opacity="0.35" filter="url(#bh)"/>
<rect x="367.4" y="417.3" width="28.9" height="6.9" rx="6.0" ry="3.4" fill="#0a0a0a" opacity="1" filter="url(#bc)"/>
<rect x="400.1" y="413.6" width="38.1" height="9.9" rx="7.0" ry="4.9" fill="#101010" opacity="0.35" filter="url(#bh)"/>
<rect x="401.1" y="415.1" width="36.1" height="6.9" rx="6.0" ry="3.4" fill="#0a0a0a" opacity="1" filter="url(#bc)"/>
<rect x="441.0" y="415.0" width="28.5" height="9.9" rx="7.0" ry="4.9" fill="#101010" opacity="0.35" filter="url(#bh)"/>
<rect x="442.0" y="416.5" width="26.5" height="6.9" rx="6.0" ry="3.4" fill="#0a0a0a" opacity="1" filter="url(#bc)"/>
<rect x="474.0" y="415.0" width="27.7" height="9.9" rx="7.0" ry="4.9" fill="#101010" opacity="0.35" filter="url(#bh)"/>
<rect x="475.0" y="416.5" width="25.7" height="6.9" rx="6.0" ry="3.4" fill="#0a0a0a" opacity="1" filter="url(#bc)"/>
<rect x="503.7" y="413.1" width="34.1" height="9.9" rx="7.0" ry="4.9" fill="#101010" opacity="0.35" filter="url(#bh)"/>
<rect x="504.7" y="414.6" width="32.1" height="6.9" rx="6.0" ry="3.4" fill="#0a0a0a" opacity="1" filter="url(#bc)"/>
</g>
</svg></body></html>
